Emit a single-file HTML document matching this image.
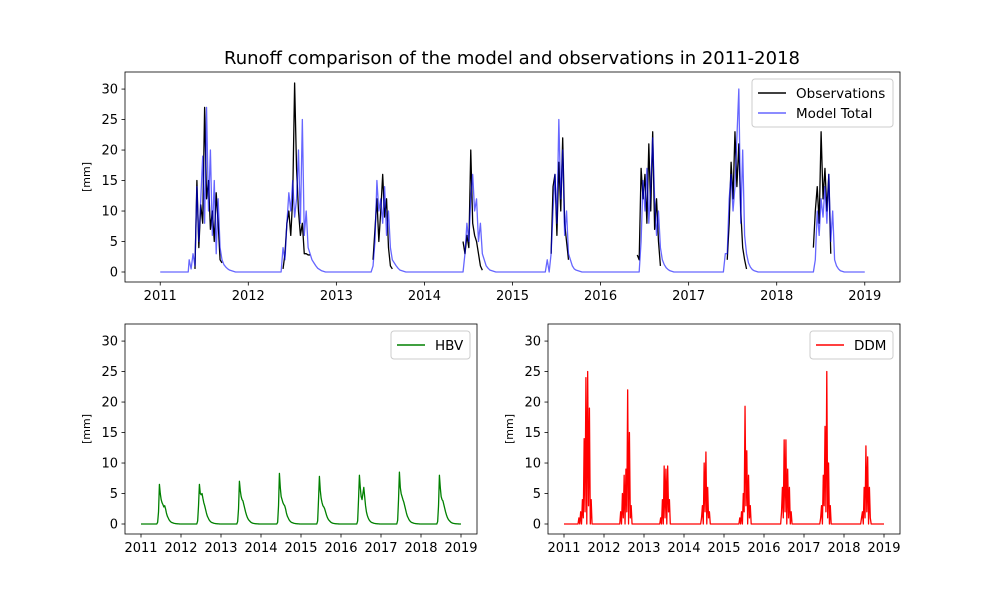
<!DOCTYPE html>
<html><head><meta charset="utf-8"><style>
body{margin:0;background:#fff}
svg text{font-family:"DejaVu Sans","Liberation Sans",sans-serif;fill:#000}
</style></head><body>
<svg id="chart" width="1000" height="600" viewBox="0 0 1000 600" xmlns="http://www.w3.org/2000/svg">
<rect width="1000" height="600" fill="#fff"/>
<text x="512" y="64" font-size="18" text-anchor="middle">Runoff comparison of the model and observations in 2011-2018</text>
</svg>
<script>
const years=[2011,2012,2013,2014,2015,2016,2017,2018];
const stepDays=8, startDay=120;
const yTicks=[0,5,10,15,20,25,30];
const xTicks=[2011,2012,2013,2014,2015,2016,2017,2018,2019];
const N=null;
const obs=[
[N,N,N,0.5,15,4,11,8,27,12,15,7,10,5,13,8,2,1.5,N,N,N,N,N,N,N,N,N,N,N,N],
[N,N,N,0.5,3,8,10,6,12,31,17,10,6,8,3,3,2.8,2.8,N,N,N,N,N,N,N,N,N,N,N,N],
[N,N,N,N,2,7,12,5,10,16,9,12,4,1,0.5,N,N,N,N,N,N,N,N,N,N,N,N,N,N,N],
[N,N,N,N,N,5,3,6,4,20,8,6,5,3,1,0.3,N,N,N,N,N,N,N,N,N,N,N,N,N,N],
[N,N,N,N,N,3,14,16,6,18,10,22,8,5,2,N,N,N,N,N,N,N,N,N,N,N,N,N,N,N],
[N,N,N,N,2.8,2,17,12,16,8,21,10,23,7,12,5,1,N,N,N,N,N,N,N,N,N,N,N,N,N],
[N,N,N,N,N,2,8,18,12,23,14,21,10,4,2,0.5,N,N,N,N,N,N,N,N,N,N,N,N,N,N],
[N,N,N,N,4,10,14,8,23,12,17,10,16,3,N,N,N,N,N,N,N,N,N,N,N,N,N,N,N,N]];
const model=[
[2,0.5,3,1,14,5,12,19,8,27,10,20,6,15,3,12,4,2,1.2,0.8,0.5,0.3,0.2,0.1,0,0,0,0,0,0],
[0,0,0,4,2,8,13,10,15,9,12,20,8,25,6,10,4,3,2,1.5,1,0.6,0.4,0.2,0.1,0,0,0,0,0],
[0,0,0,0,1,5,15,10,12,8,14,6,10,4,2,1.5,1,0.6,0.3,0.2,0.1,0,0,0,0,0,0,0,0,0],
[0,0,0,0,0,0,3,8,5,12,16,10,12,5,8,3,2,1,0.6,0.3,0.2,0.1,0,0,0,0,0,0,0,0],
[0,0,0,2,0,3,10,16,8,25,12,20,6,10,3,2,1,0.5,0.3,0.2,0.1,0,0,0,0,0,0,0,0,0],
[0,0,0,0,0,0,5,15,10,17,8,14,22,12,6,10,4,2,1.2,0.7,0.4,0.2,0.1,0,0,0,0,0,0,0],
[0,0,0,0,3,3,12,16,10,14,22,30,8,20,6,3,1.5,0.8,0.4,0.2,0.1,0,0,0,0,0,0,0,0,0],
[0,0,0,0,0,2,10,6,12,9,14,8,16,5,10,2,1,0.5,0.2,0.1,0,0,0,0,0,0,0,0,0,0]];
const hbv=[
[0,0,0,0,0.3,2,6.5,5,4,3.5,3.2,2.8,3,2.5,1.8,1.3,1,0.7,0.5,0.35,0.25,0.2,0.15,0.1,0.08,0.05,0.04,0.03,0.02,0.01],
[0,0,0,0,0.5,3,6.5,5,4.8,5,4.2,3.5,3,2.4,1.8,1.3,1,0.7,0.5,0.35,0.25,0.2,0.15,0.1,0.08,0.05,0.04,0.03,0.02,0.01],
[0,0,0,0,0.4,2.5,7,5.5,4.5,4,3.8,3.2,2.6,2,1.5,1.1,0.8,0.6,0.45,0.3,0.2,0.15,0.1,0.08,0.05,0.04,0.03,0.02,0.01,0],
[0,0,0,0,0.3,3,8.3,6,4.5,4,3.5,3.2,3,2.5,1.8,1.3,1,0.7,0.5,0.35,0.25,0.2,0.15,0.1,0.08,0.05,0.04,0.03,0.02,0.01],
[0,0,0,0,0.5,4,7.8,5.5,4.2,3.5,3,2.8,2.5,2,1.5,1.1,0.8,0.6,0.45,0.3,0.2,0.15,0.1,0.08,0.05,0.04,0.03,0.02,0.01,0],
[0,0,0,0,0.5,4,8,6,4.5,4,5,6,4.5,3,2,1.4,1,0.7,0.5,0.35,0.25,0.2,0.15,0.1,0.08,0.05,0.04,0.03,0.02,0.01],
[0,0,0,0,0.6,4,8.5,6,5,4.5,4,3.6,3,2.4,1.8,1.3,1,0.7,0.5,0.35,0.25,0.2,0.15,0.1,0.08,0.05,0.04,0.03,0.02,0.01],
[0,0,0,0,0.4,3,8,6,4.5,4,3.8,3.2,2.6,2,1.5,1.1,0.8,0.6,0.45,0.3,0.2,0.15,0.1,0.08,0.05,0.04,0.03,0.02,0.01,0]];
const ddm=[
[0,0,1,0,2,0,4,1,14,2,24,0,25,3,19,0,4,0,0,0,0,0,0,0,0,0,0,0,0,0],
[0,0,0,0,2,0,5,1,8,0,9,2,22,0,15,1,3,0,0,0,0,0,0,0,0,0,0,0,0,0],
[0,0,0,0,1,0,4,0,9.5,1,9,0,9.5,2,4,0,0,0,0,0,0,0,0,0,0,0,0,0,0,0],
[0,0,0,0,0,1,3,0,10,2,11.8,0,6,1,2,0,0,0,0,0,0,0,0,0,0,0,0,0,0,0],
[0,0,0,1,0,2,0,5,2,19.3,3,12,0,8,1,3,0,0,0,0,0,0,0,0,0,0,0,0,0,0],
[0,0,0,0,0,2,6,1,13.8,2,13.8,0,9,1,6,0,2,0,0,0,0,0,0,0,0,0,0,0,0,0],
[0,0,0,0,1,3,0,8,3,16,2,25,1,10,0,3,0,0,0,0,0,0,0,0,0,0,0,0,0,0],
[0,0,0,0,0,1,2,0,6,1,12.8,2,11,0,6,1,0,0,0,0,0,0,0,0,0,0,0,0,0,0]];

const svgEl=document.getElementById('chart');
const NS='http://www.w3.org/2000/svg';
function mk(tag,attrs,parent){const e=document.createElementNS(NS,tag);for(const k in attrs)e.setAttribute(k,attrs[k]);(parent||svgEl).appendChild(e);return e;}

function makeAxes(name,x0,x1,y0,y1){
  const g=mk('g',{});
  
  
  const xmin=2010.6,xmax=2019.4,ymin=-1.64,ymax=32.8;
  const sx=v=>x0+(v-xmin)/(xmax-xmin)*(x1-x0);
  const sy=v=>y1-(v-ymin)/(ymax-ymin)*(y1-y0);
  return {g,sx,sy,x0,x1,y0,y1};
}
function drawFrame(ax,fs){
  const {g,sx,sy,x0,x1,y0,y1}=ax;
  xTicks.forEach(t=>{
    const x=sx(t);
    mk('line',{x1:x,x2:x,y1:y1,y2:y1+3.5,stroke:'#000','stroke-width':0.8},g);
    const tx=mk('text',{x:x,y:y1+18,'font-size':fs,'text-anchor':'middle'},g);
    tx.textContent=t;
    
    
  });
  yTicks.forEach(t=>{
    const y=sy(t);
    mk('line',{x1:x0-3.5,x2:x0,y1:y,y2:y,stroke:'#000','stroke-width':0.8},g);
    const tx=mk('text',{x:x0-7,y:y+4.5,'font-size':fs,'text-anchor':'end'},g);
    tx.textContent=t;
    
    
  });
  mk('rect',{x:x0,y:y0,width:x1-x0,height:y1-y0,fill:'none',stroke:'#000','stroke-width':0.8},g);
  const yl=mk('text',{x:0,y:0,'font-size':11,'text-anchor':'middle',transform:`translate(${x0-35},${(y0+y1)/2}) rotate(-90)`},g);
  yl.textContent='[mm]';
  
  
}
function drawSeries(ax,data,color,opacity,name,fill0){
  const {g,sx,sy}=ax;
  let d='';
  for(let yi=0;yi<years.length;yi++){
    const arr=data[yi];
    let pen=false;
    if(fill0){
      d+=`M${sx(years[yi]).toFixed(2)},${sy(0).toFixed(2)}`;
      d+=`L${sx(years[yi]+(startDay-4)/365).toFixed(2)},${sy(0).toFixed(2)}`;
      pen=true;
    }
    for(let i=0;i<arr.length;i++){
      const v=arr[i];
      if(v===null){pen=false;continue;}
      const t=years[yi]+(startDay+stepDays*i)/365;
      d+=(pen?'L':'M')+sx(t).toFixed(2)+','+sy(v).toFixed(2);
      pen=true;
    }
    if(fill0){d+=`L${sx(years[yi]+1).toFixed(2)},${sy(0).toFixed(2)}`;}
  }
  const p=mk('path',{d:d,fill:'none',stroke:color,'stroke-opacity':opacity,'stroke-width':1.3,'stroke-linejoin':'round'},g);
  
  
}
function legend(ax,x,y,w,items){
  const g=mk('g',{},ax.g);
  
  
  mk('rect',{x:x,y:y,width:w,height:8+items.length*20,rx:3,fill:'#fff',stroke:'#ccc','stroke-width':1},g);
  items.forEach((it,i)=>{
    const cy=y+14+i*20;
    mk('line',{x1:x+6,x2:x+34,y1:cy,y2:cy,stroke:it[1],'stroke-opacity':it[2],'stroke-width':1.5},g);
    const t=mk('text',{x:x+44,y:cy+5,'font-size':13.5},g);
    t.textContent=it[0];
    
    
  });
}
const topAx=makeAxes('top-axes',125,900,72,282);
drawSeries(topAx,obs,'#000',1,'observations-line',false);
drawSeries(topAx,model,'blue',0.6,'model-total-line',true);
drawFrame(topAx,13);
legend(topAx,752,79,141,[['Observations','#000',1],['Model Total','blue',0.6]]);

const bl=makeAxes('hbv-axes',125,477,324,534);
drawSeries(bl,hbv,'green',1,'hbv-line',true);
drawFrame(bl,13);
legend(bl,391,331,79,[['HBV','green',1]]);

const br=makeAxes('ddm-axes',548,900,324,534);
drawSeries(br,ddm,'red',1,'ddm-line',true);
drawFrame(br,13);
legend(br,810,331,83,[['DDM','red',1]]);
</script>
</body></html>
